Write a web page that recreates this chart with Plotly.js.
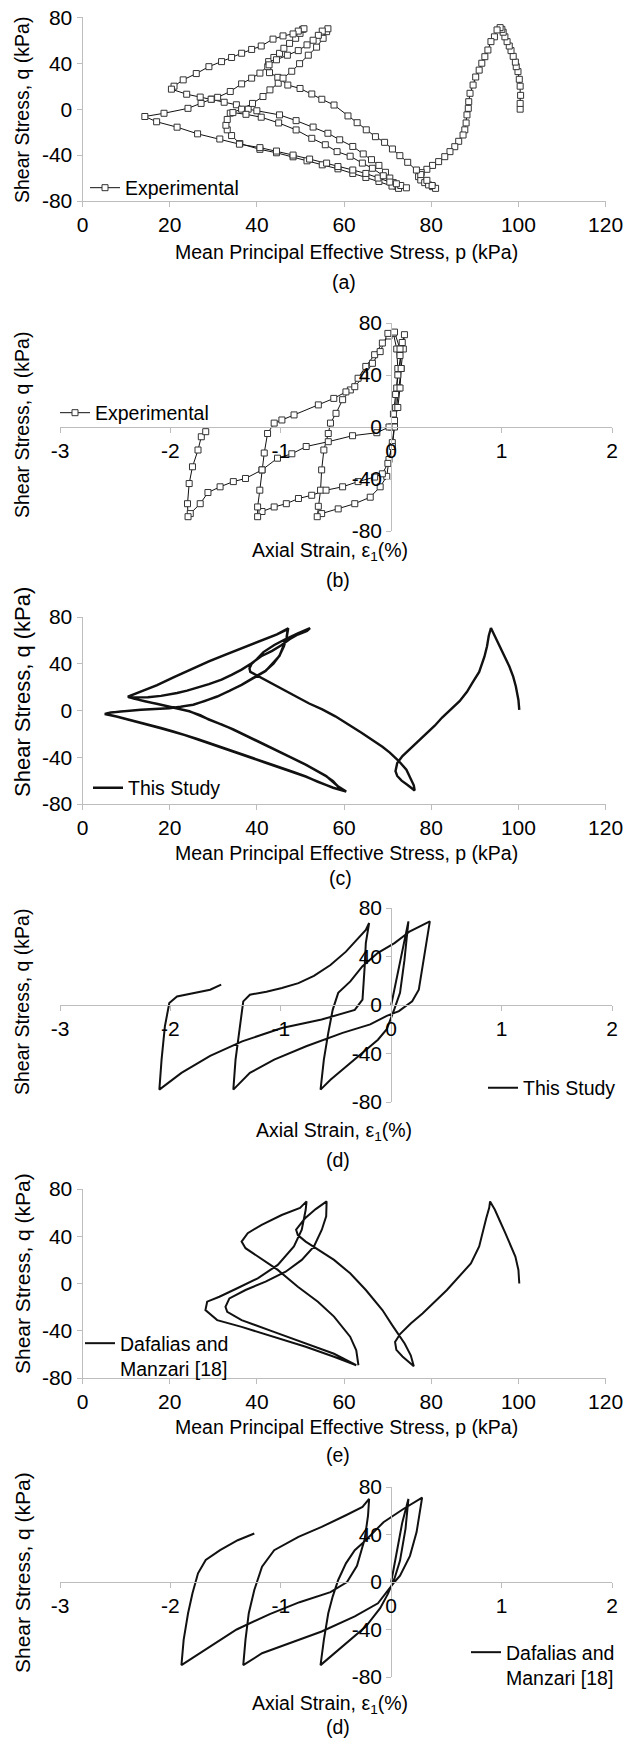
<!DOCTYPE html>
<html><head><meta charset="utf-8">
<script src="https://cdn.plot.ly/plotly-3.0.1.min.js"></script>
<style>html,body{margin:0;padding:0;background:#fff}#c{width:634px;height:1739px}</style>
</head><body><div id="c"></div>
<script>
// ---------- DATA ----------
// (a) Experimental, p (kPa) vs q (kPa)
const expPQ = [
[100.4,0],[100.4,5],[100.5,12],[100.4,20],[100.2,26],[99.9,32.7],[99.5,37],[99.3,41],[98.8,46],[98.3,51],[97.9,55],[97.4,58.8],[96.9,63],[96.5,67],[96.2,69.5],[95.8,71],
[95.1,69],[94.5,63],[93.7,58.8],[93,51.5],[92.3,45.7],[91.6,40],[91,34],[90.2,28],[89.6,21],[88.9,13.8],[88.6,6.5],[88.5,0.7],[88.2,-5],[88,-12],[87.7,-18],[87.3,-22.5],[86.3,-28],[85.4,-32.7],[84.3,-37],[83.1,-41.4],[81.7,-45.7],[80.3,-49],[79,-52.4],[77.7,-55.3],[77.1,-58.8],[77.6,-61.7],[78.5,-64],[79.4,-66],[80.3,-67.5],[81,-69],
[80.2,-66.5],[79,-62],[77.6,-57],[76.6,-53],[74.6,-46.3],[72.8,-40.5],[71.1,-34.7],[69.3,-28.9],[67.2,-24],[65.1,-18],[63,-11.8],[60.9,-5.9],[57.7,3.6],[54.9,8.6],[52.6,13.2],[49.9,18],[47.1,21],[44.8,27.7],[42.9,31.8],[42.5,37],[42.7,41.4],[43.9,45],[45.2,48.6],[46.2,53],[47.5,57.3],[48.9,61.7],[49.9,66],[50.5,69.5],[50.8,70],
[49.5,68],[48.3,65.5],[46,63.8],[43.7,61],[41,55],[38.8,52],[36.5,48.7],[34.2,45],[31.9,41.4],[29,37],[26.1,31],[23.1,25.5],[21,20],[20.4,17.4],
[23.9,13],[27,10.5],[29.6,8.7],[32.5,6],[35.3,3.8],[38,0],[40,-1.4],[45.2,-5],[49,-10],[52.9,-15.6],[56.3,-21],[59,-26.7],[62,-32.5],[64.4,-39],[66.3,-44],[68,-49],[69.5,-55],[70.5,-60],[71.3,-64],[72,-67],[72.5,-69],
[71,-67],[68,-63],[65,-59.5],[62,-56],[58.6,-52],[55,-48.5],[51.5,-45],[48.3,-41.5],[44.5,-38],[40.7,-35],[36.1,-30],[34.2,-23],
[33.2,-18],[32.9,-14],[33.2,-9],[33.9,-3.5],
[36.5,0],[39,5],[41.4,11],[43,16.8],[44.9,22.6],[46,27],[48,33],[49.8,39.6],[51.8,47],[53.7,54],[55.2,61.7],[56,67.5],[56.3,70],
[55,68],[54.1,64.3],[52.9,60],[51.5,56],[49.5,51],[47,47],[44.5,43],[42.8,38.6],[40.7,31.4],[38.8,27],[36.5,22],[33.9,15.4],[31,10.3],[29.5,8.6],[27.2,5],[24.2,0.7],[18.7,-3.6],[14.3,-6.4],
[17,-11],[21.7,-15.7],[26.4,-21.5],[31.5,-26],[36,-30.5],[40.7,-33.5],[44.5,-36.5],[48.3,-40],[52.1,-43.5],[56,-47],[58.6,-50],[62,-53],[65,-56],[67.8,-60],[70.5,-63.5],[73,-66.5],[74.3,-68.5],
[72,-65],[69,-58],[66.5,-51.5],[64.2,-47],[61.4,-41],[58.4,-37],[55.7,-31],[52.6,-25.4],[49,-18.1],[45,-12],[41,-7],[37.5,-4.5],[34.5,-3]
];
// (b) Experimental, axial strain (%) vs q (kPa)
const expStrain = [
[0,0],[0.02,10],[0.04,25],[0.06,40],[0.08,55],[0.1,65],[0.12,71],
[0.11,60],[0.09,45],[0.07,30],[0.05,15],[0.03,2],[0.01,-12],[-0.02,-25],[-0.04,-38],[-0.1,-46],[-0.19,-54],[-0.33,-59],[-0.48,-63],[-0.63,-66.6],[-0.67,-69],
[-0.66,-61],[-0.64,-48.6],[-0.63,-33],[-0.61,-17.7],[-0.57,-5],[-0.55,3],[-0.5,10.5],[-0.44,21],[-0.37,28.5],[-0.3,37.5],[-0.23,46.6],[-0.15,55.6],[-0.08,64.6],[-0.02,70],[0.02,72],
[0.05,60],[0.06,45],[0.05,30],[0.04,15],[0.03,0],[0.01,-15],[-0.03,-28],[-0.08,-36],[-0.15,-38.5],[-0.3,-42],[-0.44,-46],[-0.59,-48.6],[-0.72,-52.5],[-0.84,-55],[-0.95,-59],[-1.06,-61.5],[-1.17,-65],[-1.21,-69],
[-1.21,-61.5],[-1.19,-48.6],[-1.17,-33],[-1.15,-20],[-1.12,-5],[-1.06,3],[-0.99,5.4],[-0.88,9.3],[-0.66,17],[-0.52,22],[-0.41,27],[-0.33,31],[-0.24,40],[-0.17,49],[-0.1,58],[-0.03,72],[0.03,73],
[0.08,60],[0.09,45],[0.08,30],[0.06,15],[0.03,5],[-0.02,0],[-0.13,-4.4],[-0.35,-6.7],[-0.57,-11.3],[-0.77,-15],[-0.9,-20.6],[-1.03,-24],[-1.17,-33],[-1.32,-39.6],[-1.43,-42],[-1.55,-46],[-1.66,-50.4],[-1.73,-59],[-1.82,-66.6],[-1.84,-69],
[-1.845,-59],[-1.83,-43.5],[-1.8,-30.6],[-1.75,-17.7],[-1.72,-7.5],[-1.68,-3.6]
];
// (c) This Study, p vs q
const studyPQ = [
[100.2,0.5],[100,9],[99.4,20.7],[98.8,29],[97.9,37.8],[97,45],[96,52],[95.1,60.6],[94.2,67.8],[93.7,70.6],
[93.2,64],[92.8,55],[92.2,46],[91,33],[89.5,24],[88.2,16],[86.5,8],[84.5,1],[82.5,-6],[80.8,-13],[78,-23],[75.3,-33],[73.4,-39],[72.2,-45],[71.8,-52],[72.2,-56],[73.2,-60],[74.5,-63.5],[76.2,-68.5],
[76,-64],[75.2,-57],[74.3,-50.6],[72.5,-43],[70.5,-36],[68.8,-31],[66.5,-25],[64,-19],[61,-12],[58,-5],[55,1],[52,6],[49,12],[46,18],[43,24],[40,30],[38.5,33],[38.3,36],[38.8,40],[40,44],[41.5,50],[44,56],[46.5,61],[49.4,66],[52.2,70.5],
[51.5,68],[49.4,65],[47.5,61],[45.7,56],[43.5,51],[41,46.4],[38.8,40.5],[36.5,35],[34.2,30.5],[31.9,26.4],[29,22.5],[26.3,19.3],[24,17],[21.7,15],[18,12.5],[15,11.3],[12.5,11],[11,11.2],[10.5,11.5],
[12,10],[14.3,7.8],[17,5.8],[19.9,3.6],[22,1.5],[24.5,-0.7],[27,-4],[29,-7.8],[32,-12],[34.6,-16.4],[37.5,-21.5],[40.2,-26.4],[43,-31.5],[45.7,-36.4],[48.5,-41.5],[51.2,-46.4],[53.7,-51.5],[55.9,-56.3],[57.5,-60.5],[58.6,-65],[60.3,-69],
[57.5,-66],[54,-61],[51.2,-56.3],[48.5,-52.7],[45.7,-49.2],[43,-45.6],[40.2,-42],[37.4,-38.5],[34.6,-35],[31.8,-31.4],[29,-27.8],[26.3,-24.2],[23.5,-20.7],[20.8,-17.8],[18,-15],[15.3,-12.2],[12.5,-9.3],[10,-7],[7.8,-5],[6,-3.5],[5.3,-2.7],[6.5,-1.6],[8.8,-0.7],[11,0],[13.4,0.7],[16.5,1.3],[19.9,2],[22.5,3.2],[25.4,5],[28,8],[30.9,12],[33.7,16.8],[36.5,22],[39.2,28],[42,34],[43.8,40],[45.2,47],[46.2,55],[46.8,62],[47.1,70],
[46.5,68.5],[44.5,65],[41,60],[37,54],[33,48],[29,42],[25,35.5],[21,28.5],[17,21.5],[13.5,16],[11.2,12.8],[10.4,11.8],[11.5,10.3],[14.3,8],[19.9,3.8],[24.5,-0.5],[29,-7.6],[34.6,-16.2],[40.2,-26.2],[45.7,-36.2],[51.2,-46.2],[55.9,-56.1],[58.6,-64.8],[60.5,-69.3],
[57.5,-66.2],[51.2,-56.6],[45.7,-49.5],[40.2,-42.3],[34.6,-35.3],[29,-28.1],[23.5,-21],[18,-15.3],[12.5,-9.6],[7.8,-5.3],[5.1,-3],[6.5,-1.8],[8.8,-0.9],[13.4,0.5],[19.9,1.8],[25.4,4.8],[30.9,11.8],[36.5,21.8],[42,33.8],[45.2,46.8],[46.8,61.8],[47.2,70.3],
[44.6,65.2],[41.1,60.2],[37.1,54.2],[33.1,48.2],[29.1,42.2],[25.1,35.7],[21.1,28.7],[17.1,21.7],[13.6,16.2],[11.3,13],[10.6,12]
];
// (d) This Study, axial strain vs q
const studyStrain = [
[0,0],[0.05,22],[0.1,45],[0.156,69],
[0.12,37],[0.08,10],[0.03,-3],[-0.04,-20],[-0.12,-28.6],[-0.26,-39.6],[-0.41,-50.6],[-0.55,-61.6],[-0.64,-69.8],
[-0.61,-45],[-0.57,-23],[-0.53,-4],[-0.48,10],[-0.37,19.5],[-0.26,32],[-0.12,43],[0.03,51],[0.17,60.8],[0.35,69],
[0.32,51],[0.28,29],[0.25,12.6],[0.19,3],[0.07,-5],[-0.04,-9],[-0.19,-16],[-0.44,-23],[-0.77,-34],[-1.06,-45],[-1.28,-56],[-1.43,-69.8],
[-1.41,-45],[-1.37,-17.6],[-1.34,3],[-1.28,8.5],[-1.13,11],[-0.99,14],[-0.84,18],[-0.7,24],[-0.55,33],[-0.41,44],[-0.3,55],[-0.23,62],[-0.2,67.6],
[-0.23,51],[-0.24,32],[-0.26,4.4],[-0.33,-4],[-0.63,-12],[-0.99,-19],[-1.35,-30],[-1.64,-42],[-1.9,-56],[-2.1,-69.8],
[-2.08,-45],[-2.05,-17.6],[-2.01,1.6],[-1.94,7],[-1.79,10],[-1.64,12.6],[-1.54,16.8]
];
// (e) Dafalias and Manzari [18], p vs q
const dmPQ = [
[100.2,0],[100,11.5],[99.3,22.8],[98.2,32.7],[97,42.6],[95.8,52.5],[94.6,62.4],[93.5,69.5],
[93.3,64],[92.6,55],[91.9,44],[91,31.3],[89.1,17],[86.3,5.8],[83.6,-5.5],[80.8,-15.4],[78,-25.3],[75.3,-33.8],[72.9,-42.6],[71.7,-49.4],[72,-56.2],[73.4,-61.8],[74.8,-66],[76,-70],
[75.3,-60.8],[73.9,-50.8],[71,-35],[68.8,-22.5],[65,-5.5],[61.4,8.6],[57.7,20],[54,28.5],[51.2,35.5],[49.4,41],[49,45.5],[51,55],[53.5,63],[56,69.5],
[55.9,56.8],[54.9,45.5],[53.1,31.3],[50.3,20],[46.6,10],[42,1.6],[37.4,-5.5],[33.7,-12.6],[32.8,-19.7],[33.2,-24],[36.5,-31],[43.9,-41],[51.2,-51],[57.7,-59.5],[62.8,-69.2],
[57.7,-62],[51.2,-53.6],[43.9,-45],[36.5,-36.7],[30.9,-31],[28.2,-22.5],[28.6,-15.4],[31.4,-11.2],[35.5,-4],[40.2,4.4],[44.8,15.7],[48.5,31.3],[50.3,45.5],[51.2,62.4],[51.4,69.5],
[49.9,64],[45.7,58],[41.1,49.7],[37.9,42.6],[36.5,35.5],[37.4,29.9],[40.2,22.8],[44.8,11.5],[49.4,-2.7],[54,-15.4],[57.7,-28],[61.4,-45],[62.8,-56.5],[63.3,-69.2]
];
// (f) Dafalias and Manzari [18], axial strain vs q
const dmStrain = [
[0,0],[0.05,25],[0.1,50],[0.156,70],
[0.13,45],[0.08,18],[0.03,3],[-0.03,-10],[-0.1,-22],[-0.23,-37.5],[-0.37,-48.7],[-0.52,-60],[-0.64,-70],
[-0.61,-48.7],[-0.57,-26.3],[-0.53,-12.3],[-0.48,1.7],[-0.41,15.7],[-0.33,26.8],[-0.25,33.4],[-0.07,50.3],[0.11,61.5],[0.28,71],
[0.23,42],[0.17,22],[0.08,5.3],[0.03,0],[-0.12,-17.9],[-0.33,-29],[-0.63,-41.7],[-0.92,-51.5],[-1.17,-60],[-1.34,-70],
[-1.32,-48.7],[-1.29,-26.3],[-1.24,-6.7],[-1.17,12.9],[-1.06,26.8],[-0.84,38],[-0.63,46.4],[-0.41,56.2],[-0.26,63.2],[-0.2,70],
[-0.21,55.8],[-0.24,36.2],[-0.31,13.7],[-0.4,0],[-0.55,-8.5],[-0.83,-17],[-1.1,-27],[-1.4,-40],[-1.65,-55],[-1.9,-70],
[-1.88,-48.7],[-1.84,-26.3],[-1.8,-9.5],[-1.75,7.3],[-1.68,18.5],[-1.55,26.8],[-1.39,35.2],[-1.24,40.8]
];
const pTicks = [0,20,40,60,80,100,120];
const eTicks = [-3,-2,-1,0,1,2];
const qTicks = [-80,-40,0,40,80];
const seriesNames = ['Experimental','Experimental','This Study','This Study','Dafalias and<br>Manzari [18]','Dafalias and<br>Manzari [18]'];
const panelLetters = ['(a)','(b)','(c)','(d)','(e)','(d)'];
const pTitle = 'Mean Principal Effective Stress, p (kPa)';
const eTitle = 'Axial Strain, ε<sub>1</sub>(%)';
const qTitle = 'Shear Stress, q (kPa)';

// ---------- LAYOUT ----------
const W = 634, H = 1739;
const fx = px => px / W, fy = py => 1 - py / H;
const FONT = '"Liberation Sans", Arimo, Arial, sans-serif';
const GREY = '#bdbdbd';
const panels = [
  {data: expPQ,       kind:'p', xd:[82.5,605.6], yd:[17.3,201],  marker:true,  lw:1,   leg:[85,188,'middle'],  ytl:[22,110,19.5],  xt:[346,252],  lt:[344,282]},
  {data: expStrain,   kind:'e', xd:[60,612],     yd:[323,531],   marker:true,  lw:1,   leg:[55,413,'middle'],  ytl:[22,425,19.5],  xt:[330,552],  lt:[338,580]},
  {data: studyPQ,     kind:'p', xd:[82.5,605.6], yd:[617,804],   marker:false, lw:2.4, leg:[88,788,'middle'],  ytl:[22,692,22],    xt:[346,853],  lt:[340,878]},
  {data: studyStrain, kind:'e', xd:[60,612],     yd:[908,1102],  marker:false, lw:2,   leg:[483,1088,'middle'],ytl:[22,1002,19.5], xt:[334,1131], lt:[338,1160]},
  {data: dmPQ,        kind:'p', xd:[82.5,605.6], yd:[1189,1378], marker:false, lw:2,   leg:[80,1324,'top'],    ytl:[22,1274,21],   xt:[346,1427], lt:[338,1455]},
  {data: dmStrain,    kind:'e', xd:[60,612],     yd:[1487,1677], marker:false, lw:2,   leg:[466,1633,'top'],   ytl:[22,1573,21],   xt:[330,1704], lt:[338,1727]}
];

const traces = [], layout = {
  width: W, height: H, margin:{l:0,r:0,t:0,b:0}, paper_bgcolor:'#fff', plot_bgcolor:'rgba(0,0,0,0)',
  font:{family:FONT, color:'#000'}, annotations:[]
};
const tickfont = {family:FONT, size:21, color:'#000'};
const axBase = {showgrid:false, zeroline:false, showline:true, linecolor:GREY, linewidth:1,
  ticks:'outside', ticklen:5, tickcolor:GREY, tickwidth:1, tickfont, tickmode:'array', fixedrange:true};
const labels = arr => arr.map(v => String(v));

panels.forEach((P, i) => {
  const n = i + 1, xk = 'xaxis' + (n > 1 ? n : ''), yk = 'yaxis' + (n > 1 ? n : '');
  const xr = 'x' + (n > 1 ? n : ''), yr = 'y' + (n > 1 ? n : '');
  const xdom = [fx(P.xd[0]), fx(P.xd[1])], ydom = [fy(P.yd[1]), fy(P.yd[0])];
  if (P.kind === 'p') {
    layout[xk] = Object.assign({}, axBase, {domain:xdom, range:[0,120], tickvals:pTicks, ticktext:labels(pTicks), anchor:yr});
    layout[yk] = Object.assign({}, axBase, {domain:ydom, range:[-80,80], tickvals:qTicks, ticktext:labels(qTicks), anchor:xr});
  } else {
    const ymid = fy((P.yd[0] + P.yd[1]) / 2);
    const xzero = fx(P.xd[0] + (0 - (-3)) / 5 * (P.xd[1] - P.xd[0]));
    layout[xk] = Object.assign({}, axBase, {domain:xdom, range:[-3,2], tickvals:eTicks, ticktext:labels(eTicks), anchor:'free', position:ymid});
    layout[yk] = Object.assign({}, axBase, {domain:ydom, range:[-80,80], tickvals:qTicks, ticktext:labels(qTicks), anchor:'free', position:xzero});
  }
  const legKey = 'legend' + (n > 1 ? n : '');
  layout[legKey] = {x: fx(P.leg[0]), y: fy(P.leg[1]), xanchor:'left', yanchor:P.leg[2], valign:'top',
    bgcolor:'rgba(0,0,0,0)', borderwidth:0, font:{family:FONT, size:19.5, color:'#000'}, tracegroupgap:0};
  const tr = {
    type:'scatter', x: P.data.map(d => d[0]), y: P.data.map(d => d[1]),
    xaxis: xr, yaxis: yr, name: seriesNames[i], legend: legKey, showlegend:true,
    mode: P.marker ? 'lines+markers' : 'lines',
    line:{color:'#111', width:P.lw}, hoverinfo:'skip'
  };
  if (P.marker) tr.marker = {symbol:'square', size:6, color:'#fff', line:{color:'#333', width:1}};
  traces.push(tr);
  const ann = (text, px, py, size, angle) => ({text, x:fx(px), y:fy(py), xref:'paper', yref:'paper', showarrow:false,
    xanchor:'center', yanchor:'middle', textangle:angle || 0, font:{family:FONT, size, color:'#000'}});
  layout.annotations.push(ann(qTitle, P.ytl[0], P.ytl[1], P.ytl[2], -90));
  layout.annotations.push(ann(P.kind === 'p' ? pTitle : eTitle, P.xt[0], P.xt[1], 19.5));
  layout.annotations.push(ann(panelLetters[i], P.lt[0], P.lt[1], 19.5));
});

Plotly.newPlot('c', traces, layout, {staticPlot:true, displayModeBar:false});
</script></body></html>
